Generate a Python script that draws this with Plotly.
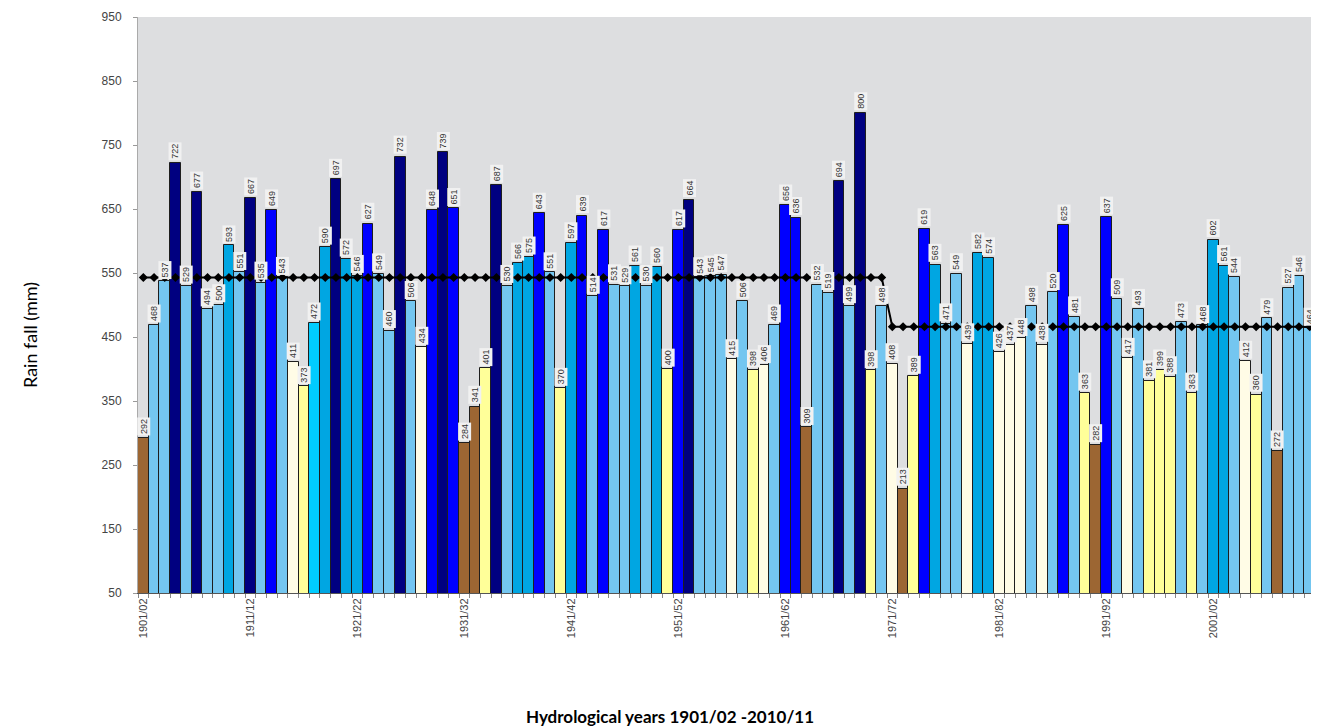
import plotly.graph_objects as go

# Hydrological years 1901/02 ... 2010/11 (category axis labels)
years = [f"{y}/{(y + 1) % 100:02d}" for y in range(1901, 2011)]

# Annual rainfall (mm)
rain = [
    292, 468, 537, 722, 529, 677, 494, 500, 593, 551,
    667, 535, 649, 543, 411, 373, 472, 590, 697, 572,
    546, 627, 549, 460, 732, 506, 434, 648, 739, 651,
    284, 341, 401, 687, 530, 566, 575, 643, 551, 370,
    597, 639, 514, 617, 531, 529, 561, 530, 560, 400,
    617, 664, 543, 545, 547, 415, 506, 398, 406, 469,
    656, 636, 309, 532, 519, 694, 499, 800, 398, 498,
    408, 213, 389, 619, 563, 471, 549, 439, 582, 574,
    426, 437, 448, 498, 438, 520, 625, 481, 363, 282,
    637, 509, 417, 493, 381, 399, 388, 473, 363, 468,
    602, 561, 544, 412, 360, 479, 272, 527, 546, 464,
]

# Class of each year (as coloured in the chart)
year_class = [
    "Br", "Lb", "Lb", "Nv", "Lb", "Nv", "Lb", "Lb", "Mb", "Lb",
    "Nv", "Lb", "Bl", "Lb", "Cr", "Ye", "Cy", "Mb", "Nv", "Mb",
    "Mb", "Bl", "Lb", "Lb", "Nv", "Lb", "Cr", "Bl", "Nv", "Bl",
    "Br", "Br", "Ye", "Nv", "Lb", "Mb", "Mb", "Bl", "Lb", "Ye",
    "Mb", "Bl", "Lb", "Bl", "Lb", "Lb", "Mb", "Lb", "Mb", "Ye",
    "Bl", "Nv", "Lb", "Lb", "Lb", "Cr", "Lb", "Ye", "Cr", "Lb",
    "Bl", "Bl", "Br", "Lb", "Lb", "Nv", "Lb", "Nv", "Ye", "Lb",
    "Cr", "Br", "Ye", "Bl", "Mb", "Lb", "Lb", "Cr", "Mb", "Mb",
    "Cr", "Cr", "Cr", "Lb", "Cr", "Lb", "Bl", "Lb", "Ye", "Br",
    "Bl", "Lb", "Cr", "Lb", "Ye", "Ye", "Ye", "Lb", "Ye", "Lb",
    "Mb", "Mb", "Lb", "Cr", "Ye", "Lb", "Br", "Lb", "Lb", "Lb",
]

# Period means (mm)
mean_1901_1970 = 543
mean_1971_2010 = 466
split_year = "1971/72"

class_colors = {
    "Br": "#9C6633",
    "Ye": "#FFFF99",
    "Cr": "#FFFCE6",
    "Lb": "#74C6F0",
    "Cy": "#00CCFF",
    "Mb": "#00A6E2",
    "Bl": "#0000FF",
    "Nv": "#000080",
}

split = years.index(split_year)
mean_line = [mean_1901_1970 if i < split else mean_1971_2010 for i in range(len(years))]

fig = go.Figure()
fig.add_trace(go.Bar(
    x=years, y=rain,
    marker=dict(color=[class_colors[c] for c in year_class],
                line=dict(color="#1e1e1e", width=1)),
    showlegend=False,
))
fig.add_trace(go.Scatter(
    x=years, y=mean_line, mode="lines+markers",
    line=dict(color="black", width=2),
    marker=dict(symbol="diamond", size=7, color="black"),
    showlegend=False,
))

for x, v in zip(years, rain):
    fig.add_annotation(
        x=x, y=v, text=str(v), textangle=-90, showarrow=False,
        xanchor="center", yanchor="bottom", yshift=2,
        font=dict(size=9, color="#333333", family="Liberation Sans Narrow, Liberation Sans, Arial"),
        bgcolor="#F1F1F1", borderpad=1,
    )

W, H = 1311, 720
L, R, T, B = 130, 4, 9, 135
pw, ph = W - L - R, H - T - B

fig.add_annotation(
    text="Rain fall (mm)", xref="paper", yref="paper",
    x=(22 - L) / pw, y=(585 - 327) / ph, textangle=-90,
    showarrow=False, xanchor="center", yanchor="middle",
    font=dict(size=18, color="black", family="Lato, Open Sans"),
)
fig.add_annotation(
    text="<b>Hydrological years 1901/02 -2010/11</b>", xref="paper", yref="paper",
    x=(662 - L) / pw, y=-(708 - 585) / ph,
    showarrow=False, xanchor="center", yanchor="middle",
    font=dict(size=17, color="black", family="Lato, Open Sans"),
)

fig.update_layout(
    width=W, height=H, autosize=False,
    margin=dict(l=L, r=R, t=T, b=B, pad=0),
    paper_bgcolor="white",
    plot_bgcolor="#DDDEE0",
    bargap=0,
    font=dict(family="Liberation Sans, Arial", size=11, color="#444444"),
)
fig.update_xaxes(
    type="category", range=[-0.5, len(years) - 0.5], autorange=False,
    tickmode="array", tickvals=years,
    ticktext=[y if i % 10 == 0 else "" for i, y in enumerate(years)],
    tickangle=-90, tickson="boundaries",
    ticks="outside", ticklen=4, tickcolor="#888888",
    showline=True, linecolor="#555555", linewidth=1,
    showgrid=False, tickfont=dict(size=11, color="#444444"),
    automargin=False,
)
fig.update_yaxes(
    range=[50, 950], autorange=False, tickmode="linear", tick0=50, dtick=100,
    ticks="outside", ticklen=4, tickcolor="#999999",
    showline=True, linecolor="#AAAAAA", linewidth=1, mirror=True,
    showgrid=False, zeroline=False, ticklabelstandoff=9,
    tickfont=dict(size=12, color="#444444"),
    automargin=False,
)

fig.write_html("out.html")
